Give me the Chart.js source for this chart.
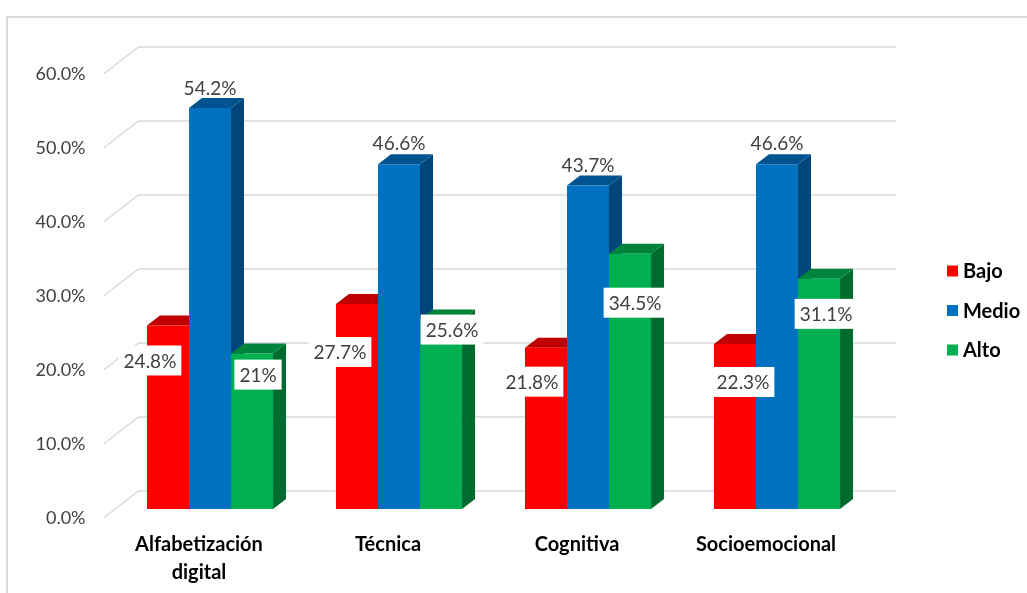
<!DOCTYPE html>
<html>
<head>
<meta charset="utf-8">
<script src="https://cdn.jsdelivr.net/npm/chart.js@4.4.1/dist/chart.umd.min.js"></script>
<style>
  html, body { margin: 0; padding: 0; background: #fff; overflow: hidden; }
  #frame { position: absolute; left: 6px; top: 16px; width: 1040px; height: 600px; border: 2px solid #d9d9d9; }
  #wrap { position: absolute; left: 0; top: 0; width: 1027px; height: 593px; }
</style>
</head>
<body>
<div id="frame"></div>
<div id="wrap"><canvas id="chart" width="1027" height="593"></canvas></div>
<script>
const categories = [['Alfabetización', 'digital'], 'Técnica', 'Cognitiva', 'Socioemocional'];
const seriesNames = ['Bajo', 'Medio', 'Alto'];
const bajo = [24.8, 27.7, 21.8, 22.3];
const medio = [54.2, 46.6, 43.7, 46.6];
const alto = [21, 25.6, 34.5, 31.1];
const yTicks = [0, 10, 20, 30, 40, 50, 60];

const frontColors = ['#ff0000', '#0070c0', '#00b050'];
const topColors = ['#c00000', '#00538f', '#00843c'];
const sideColors = ['#c00000', '#00467a', '#006b2e'];

const DX = 13, DY = 10; // bar depth

// fake 3d: walls grid + top/side faces of each bar
const threeD = {
    id: 'threeD',
    beforeDatasetsDraw(chart) {
        const ctx = chart.ctx;
        const y = chart.scales.y;
        const a = chart.chartArea;
        ctx.save();
        ctx.strokeStyle = '#d9d9d9';
        ctx.lineWidth = 1.5;
        y.ticks.forEach(t => {
            const py = y.getPixelForValue(t.value);
            ctx.beginPath();
            ctx.moveTo(a.left - 12, py + 9);
            ctx.lineTo(a.left + 23, py - 18);
            ctx.lineTo(a.right + 25, py - 18);
            ctx.stroke();
        });
        const n = chart.data.labels.length;
        for (let i = 0; i < n; i++) {
            chart.data.datasets.forEach((ds, d) => {
                const bar = chart.getDatasetMeta(d).data[i];
                const p = bar.getProps(['x', 'y', 'base', 'width'], true);
                const l = p.x - p.width / 2, r = p.x + p.width / 2;
                ctx.fillStyle = sideColors[d];
                ctx.beginPath();
                ctx.moveTo(r, p.y);
                ctx.lineTo(r + DX, p.y - DY);
                ctx.lineTo(r + DX, p.base - DY);
                ctx.lineTo(r, p.base);
                ctx.closePath();
                ctx.fill();
                ctx.fillStyle = topColors[d];
                ctx.beginPath();
                ctx.moveTo(l, p.y);
                ctx.lineTo(r, p.y);
                ctx.lineTo(r + DX, p.y - DY);
                ctx.lineTo(l + DX, p.y - DY);
                ctx.closePath();
                ctx.fill();
            });
        }
        ctx.restore();
    },
    afterDatasetsDraw(chart) {
        const ctx = chart.ctx;
        ctx.save();
        ctx.font = '19px Lato';
        ctx.textAlign = 'center';
        ctx.textBaseline = 'middle';
        // label shifts, roughly where excel left them
        const shift = [
            [[-18, 35], [-17, 48], [-14, 34], [8, 38]],
            [[0, -20], [0, -21], [0, -21], [0, -21]],
            [[6, 21], [11, 10], [5, 49], [7, 35]]
        ];
        chart.data.datasets.forEach((ds, d) => {
            chart.getDatasetMeta(d).data.forEach((bar, i) => {
                const txt = ds.data[i] + '%';
                const cx = bar.x + shift[d][i][0];
                const cy = bar.y + shift[d][i][1];
                if (d !== 1) {
                    const w = ctx.measureText(txt).width + 10;
                    ctx.fillStyle = '#fff';
                    ctx.fillRect(cx - w / 2, cy - 15, w, 30);
                }
                ctx.fillStyle = '#404040';
                ctx.fillText(txt, cx, cy + 1);
            });
        });
        // legend
        ctx.textAlign = 'left';
        ctx.font = 'bold 20px Lato';
        seriesNames.forEach((name, k) => {
            const ly = 271 + k * 39.5;
            ctx.fillStyle = frontColors[k];
            ctx.fillRect(947, ly - 5.5, 11, 11);
            ctx.fillStyle = '#000';
            ctx.fillText(name, 963, ly + 1);
        });
        ctx.restore();
    }
};

new Chart(document.getElementById('chart'), {
    type: 'bar',
    data: {
        labels: categories,
        datasets: [
            { label: seriesNames[0], data: bajo, backgroundColor: frontColors[0] },
            { label: seriesNames[1], data: medio, backgroundColor: frontColors[1] },
            { label: seriesNames[2], data: alto, backgroundColor: frontColors[2] }
        ]
    },
    options: {
        responsive: false,
        animation: false,
        devicePixelRatio: 1,
        layout: { padding: { left: 0, right: 155.5, top: 65, bottom: 0 } },
        datasets: { bar: { barPercentage: 1, categoryPercentage: 0.667, borderWidth: 0 } },
        plugins: { legend: { display: false }, tooltip: { enabled: false } },
        scales: {
            x: {
                grid: { display: false, drawTicks: false },
                border: { display: false },
                ticks: {
                    color: '#000',
                    font: { family: 'Lato', size: 20, weight: 'bold', lineHeight: 1.4 },
                    padding: 22,
                    labelOffset: -11,
                    maxRotation: 0,
                    autoSkip: false
                },
                afterFit(scale) { scale.height = 84; }
            },
            y: {
                min: 0,
                max: 60,
                grid: { display: false, drawTicks: false },
                border: { display: false },
                afterBuildTicks(scale) { scale.ticks = yTicks.map(v => ({ value: v })); },
                ticks: {
                    color: '#404040',
                    font: { family: 'Lato', size: 18 },
                    padding: 30,
                    labelOffset: 9,
                    callback: v => v.toFixed(1) + '%'
                },
                afterFit(scale) { scale.width = 115.5; }
            }
        }
    },
    plugins: [threeD]
});
</script>
</body>
</html>
